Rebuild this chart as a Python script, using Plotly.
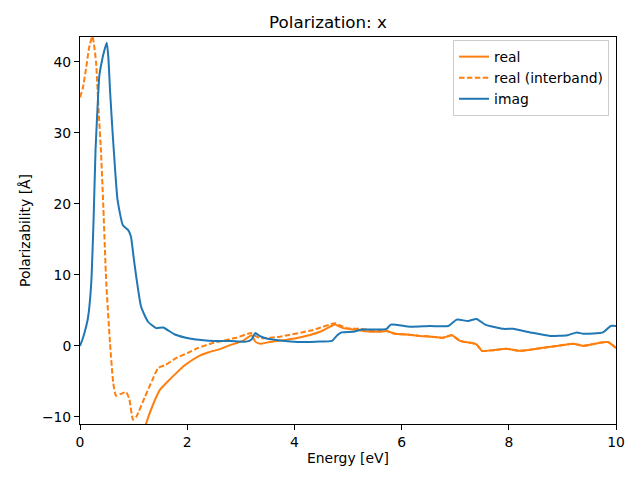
import plotly.graph_objects as go

# imaginary part
imag_x = [0, 0.05, 0.1, 0.15, 0.21, 0.255, 0.29, 0.33, 0.36, 0.40, 0.45, 0.50, 0.53, 0.56, 0.60, 0.63,
          0.70, 0.80, 0.90, 0.95, 1.0, 1.05, 1.14, 1.27, 1.42, 1.55, 1.77, 2.07, 2.3, 2.5, 2.8, 3.1,
          3.2, 3.27, 3.35, 3.5, 3.7, 4.05, 4.4, 4.7, 4.8, 4.88, 5.1, 5.26, 5.6, 5.72, 5.8, 6.16, 6.53,
          6.87, 7.03, 7.24, 7.4, 7.56, 7.9, 8.08, 8.4, 8.77, 9.09, 9.27, 9.39, 9.76, 9.9, 10.0]
imag_y = [0, 1.0, 2.3, 4.0, 8.9, 18.2, 27.6, 34, 38, 39.8, 41.5, 42.7, 40.5, 36, 31, 27.6,
          20.6, 17, 16.3, 15.4, 12.5, 9.7, 5.5, 3.4, 2.5, 2.6, 1.6, 1.0, 0.8, 0.7, 0.7, 0.6,
          0.9, 1.8, 1.4, 1.0, 0.8, 0.55, 0.6, 0.7, 1.5, 1.9, 2.0, 2.3, 2.3, 2.4, 3.0, 2.7, 2.8,
          2.8, 3.7, 3.5, 3.8, 3.0, 2.4, 2.4, 1.9, 1.4, 1.5, 1.9, 1.7, 1.9, 2.8, 2.8]

# real part (total)
real_x = [0.9, 1.0, 1.1, 1.23, 1.35, 1.49, 1.6, 1.8, 1.96, 2.2, 2.4, 2.61, 2.8, 3.04, 3.2, 3.27,
          3.36, 3.54, 3.8, 4.05, 4.48, 4.76, 4.82, 4.91, 5.1, 5.41, 5.6, 5.72, 5.88, 6.1, 6.34,
          6.55, 6.77, 6.94, 7.09, 7.31, 7.4, 7.5, 7.71, 7.96, 8.2, 8.52, 8.9, 9.2, 9.39, 9.6, 9.85, 10.0]
real_y = [-22, -18, -14.5, -11, -8.5, -6.2, -5.3, -3.8, -2.7, -1.5, -0.9, -0.45, 0.1, 0.7, 1.5, 0.6,
          0.3, 0.55, 0.8, 1.1, 2.0, 3.0, 2.8, 2.5, 2.3, 2.0, 2.0, 2.1, 1.7, 1.6, 1.4,
          1.3, 1.15, 1.5, 0.7, 0.4, 0.2, -0.7, -0.6, -0.4, -0.7, -0.4, 0, 0.3, 0, 0.3, 0.55, -0.3]

# real part (interband)
inter_x = [0, 0.05, 0.11, 0.17, 0.23, 0.26, 0.3, 0.35, 0.39, 0.43, 0.49, 0.56, 0.62, 0.67, 0.75,
           0.86, 0.92, 0.99, 1.05, 1.21, 1.35, 1.46, 1.59, 1.8, 2.01, 2.2, 2.48, 2.89, 3.2, 3.27,
           3.36, 3.73, 4.35, 4.76, 4.82, 4.98, 5.22, 5.6, 5.72, 5.88, 6.1, 6.34, 6.55, 6.77, 6.94,
           7.09, 7.31, 7.4, 7.5, 7.71, 7.96, 8.2, 8.52, 8.9, 9.2, 9.39, 9.6, 9.85, 10.0]
inter_y = [35, 36.2, 38.9, 42, 43.6, 42.5, 39.9, 32.8, 27.6, 20.6, 8.9, 0.4, -5.2, -7.0, -6.8,
           -6.5, -7.5, -10.4, -10, -7.2, -4.8, -3.1, -2.7, -1.7, -1.0, -0.3, 0.4, 1.1, 1.8, 1.4,
           1.1, 1.3, 2.25, 3.2, 3.0, 2.5, 2.4, 2.1, 2.1, 1.7, 1.6, 1.4, 1.3, 1.15, 1.5,
           0.7, 0.4, 0.2, -0.7, -0.6, -0.4, -0.7, -0.4, 0, 0.3, 0, 0.3, 0.55, -0.3]

x_ticks = [0, 2, 4, 6, 8, 10]
y_ticks = [-10, 0, 10, 20, 30, 40]

ORANGE = "#ff7f0e"
BLUE = "#1f77b4"

fig = go.Figure()
fig.add_trace(go.Scatter(x=real_x, y=real_y, mode="lines", name="real",
                         line=dict(color=ORANGE, width=2, shape="spline", smoothing=0.5)))
fig.add_trace(go.Scatter(x=inter_x, y=inter_y, mode="lines", name="real (interband)",
                         line=dict(color=ORANGE, width=2, dash="5.5px,2.4px",
                                   shape="spline", smoothing=0.5)))
fig.add_trace(go.Scatter(x=imag_x, y=imag_y, mode="lines", name="imag",
                         line=dict(color=BLUE, width=2, shape="spline", smoothing=0.5)))

axis_common = dict(showgrid=False, zeroline=False, showline=True, linecolor="black",
                   linewidth=1, mirror=True, ticks="outside", ticklen=5, tickwidth=1,
                   tickcolor="black", tickfont=dict(size=13.9, color="black"),
                   automargin=False)

# the page body adds an 8px offset, so margins are shifted to compensate
fig.update_layout(
    width=640, height=480,
    margin=dict(l=72, r=32, t=29, b=64),
    paper_bgcolor="white", plot_bgcolor="white",
    font=dict(family="DejaVu Sans", color="black"),
    title=dict(text="Polarization: x", x=0.5, xanchor="center", y=0.971, yanchor="middle",
               yref="container", automargin=False,
               font=dict(size=16.7, color="black")),
    xaxis=dict(range=[0, 10], tickvals=x_ticks,
               title=dict(text="Energy [eV]", font=dict(size=13.9), standoff=4), **axis_common),
    yaxis=dict(range=[-11, 43.5], tickvals=y_ticks,
               title=dict(text="Polarizability [Å]", font=dict(size=13.9), standoff=8), **axis_common),
    legend=dict(x=0.987, y=0.992, xanchor="right", yanchor="top",
                bgcolor="rgba(255,255,255,0.8)", bordercolor="#cccccc", borderwidth=1,
                font=dict(size=13.9), tracegroupgap=0, itemwidth=30),
    showlegend=True,
)

fig.write_html("out.html")
